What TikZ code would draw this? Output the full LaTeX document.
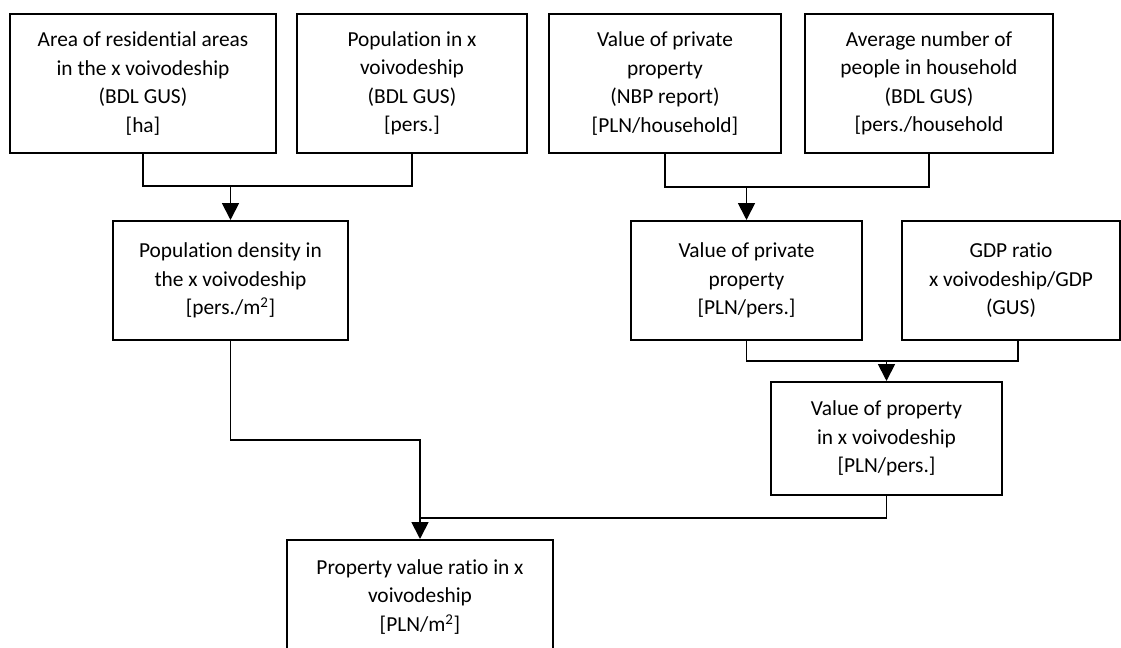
\documentclass[tikz,border=0pt]{standalone}
\usepackage{fontspec}
\setmainfont{Carlito}[Ligatures=NoCommon]
\usetikzlibrary{positioning, arrows.meta}

\tikzset{
  box/.style={draw, line width=1.4pt, align=center, inner sep=0pt,
    font=\fontsize{15.2}{20.2}\selectfont},
  link/.style={line width=1.3pt},
  feed/.style={link, -{Triangle[length=0.42cm,width=0.42cm]}}
}

\begin{document}
\begin{tikzpicture}[x=0.025cm, y=-0.025cm]
  \useasboundingbox (0,0) rectangle (1121,648);

  % Source data
  \node[box, minimum width=6.65cm, minimum height=3.475cm] (area) at (143,83.5)
    {Area of residential areas\\in the x voivodeship\\(BDL GUS)\\{[ha]}};
  \node[box, minimum width=5.75cm, minimum height=3.475cm] (popx) at (412,83.5)
    {Population in x\\voivodeship\\(BDL GUS)\\{[pers.]}};
  \node[box, minimum width=5.8cm, minimum height=3.475cm] (valpriv) at (665,83.5)
    {Value of private\\property\\(NBP report)\\{[PLN/household]}};
  \node[box, minimum width=6.2cm, minimum height=3.475cm] (avgppl) at (929,83.5)
    {Average number of\\people in household\\(BDL GUS)\\{[pers./household}};

  % Derived values
  \node[box, minimum width=5.875cm, minimum height=2.975cm] (density) at (230.5,280.5)
    {Population density in\\the x voivodeship\\{[pers./m\textsuperscript{2}]}};
  \node[box, minimum width=5.775cm, minimum height=2.975cm] (valpers) at (746.5,280.5)
    {Value of private\\property\\{[PLN/pers.]}};
  \node[box, minimum width=5.45cm, minimum height=2.975cm] (gdp) at (1011,280.5)
    {GDP ratio\\x voivodeship/GDP\\(GUS)};
  \node[box, minimum width=5.775cm, minimum height=2.825cm] (valprop) at (886.5,438.5)
    {Value of property\\in x voivodeship\\{[PLN/pers.]}};

  % Result
  \node[box, minimum width=6.65cm, minimum height=2.85cm] (ratio) at (420,597)
    {Property value ratio in x\\voivodeship\\{[PLN/m\textsuperscript{2}]}};

  % Junctions
  \coordinate (top1) at (230.5,186);
  \coordinate (top2) at (746.5,187);
  \coordinate (mid) at (886.5,361);
  \coordinate (bend) at (420,440);
  \coordinate (low) at (420,518);

  % Connectors
  \draw[link] (area.south) |- (top1) -| (popx.south);
  \draw[feed] (top1) -- (density.north);
  \draw[link] (valpriv.south) |- (top2) -| (avgppl.south);
  \draw[feed] (top2) -- (valpers.north);
  \draw[link] (valpers.south) |- (mid) -| ([xshift=0.175cm]gdp.south);
  \draw[feed] (mid) -- (valprop.north);
  \draw[feed] (density.south) |- (bend) -- (ratio.north);
  \draw[link] (valprop.south) |- (low);
\end{tikzpicture}
\end{document}
